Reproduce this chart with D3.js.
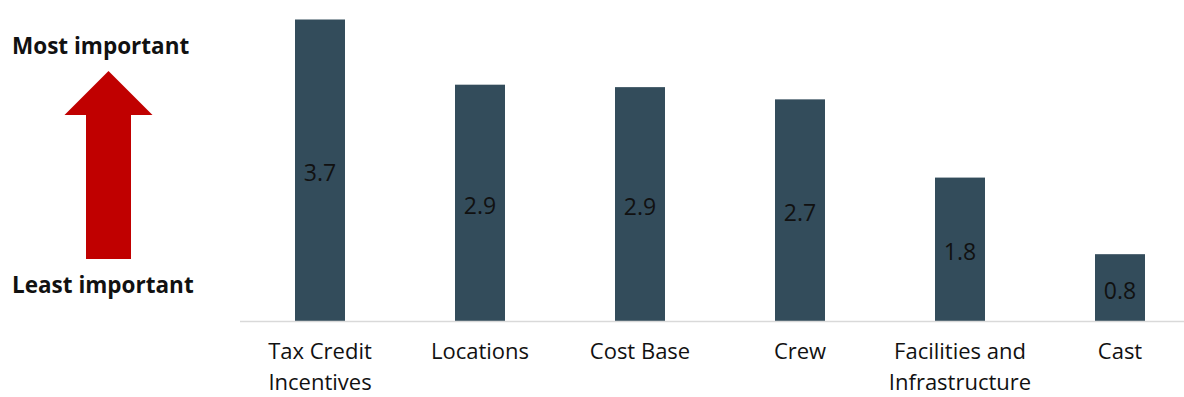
<!DOCTYPE html>
<html>
<head>
<meta charset="utf-8">
<script src="https://cdn.jsdelivr.net/npm/d3@7"></script>
<style>
  body { margin: 0; background: #fff; }
  svg { display: block; font-family: "Open Sans", sans-serif; }
</style>
</head>
<body>
<script>
// chart data
var categories = [["Tax Credit", "Incentives"], ["Locations"], ["Cost Base"], ["Crew"],
                  ["Facilities and", "Infrastructure"], ["Cast"]];
var scores = [3.7, 2.9, 2.87, 2.72, 1.76, 0.82];
var topLabel = "Most important",
    bottomLabel = "Least important";

var width = 1184,
    height = 397;

var svg = d3.select("body").append("svg")
    .attr("width", width)
    .attr("height", height);

var baseY = 321;

var x = d3.scaleBand()
    .domain(d3.range(categories.length))
    .range([240, 1200])
    .paddingInner(0.6875)
    .paddingOuter(0.34375);

var y = d3.scaleLinear()
    .domain([0, 3.7])
    .range([baseY, 19.5]);

// bars
svg.selectAll(".bar")
    .data(scores)
    .enter().append("rect")
    .attr("class", "bar")
    .attr("x", function(d, i) { return x(i); })
    .attr("y", function(d) { return y(d); })
    .attr("width", x.bandwidth())
    .attr("height", function(d) { return baseY - y(d); })
    .attr("fill", "#334c5b");

// value labels in the middle of each bar
svg.selectAll(".val")
    .data(scores)
    .enter().append("text")
    .attr("class", "val")
    .attr("x", function(d, i) { return x(i) + x.bandwidth() / 2; })
    .attr("y", function(d) { return (y(d) + baseY) / 2 + 11; })
    .attr("text-anchor", "middle")
    .attr("font-size", 23)
    .attr("fill", "#111")
    .text(function(d) { return d3.format(".1f")(d); });

// baseline
svg.append("line")
    .attr("x1", 240).attr("x2", width)
    .attr("y1", baseY + 0.5).attr("y2", baseY + 0.5)
    .attr("stroke", "#d9d9d9")
    .attr("stroke-width", 1.5);

// category labels
var cat = svg.selectAll(".cat")
    .data(categories)
    .enter().append("text")
    .attr("class", "cat")
    .attr("text-anchor", "middle")
    .attr("font-size", 22)
    .attr("fill", "#111")
    .attr("transform", function(d, i) { return "translate(" + (x(i) + x.bandwidth() / 2) + ",359)"; });

cat.selectAll("tspan")
    .data(function(d) { return d; })
    .enter().append("tspan")
    .attr("x", 0)
    .attr("dy", function(d, j) { return j ? 30.5 : 0; })
    .text(function(d) { return d; });

// importance arrow on the left
svg.append("path")
    .attr("d", "M108.5,71 L152.5,115 L131,115 L131,259 L86,259 L86,115 L64.5,115 Z")
    .attr("fill", "#c00000");

svg.append("text")
    .attr("x", 12).attr("y", 54)
    .attr("font-size", 22.5)
    .attr("font-weight", "bold")
    .attr("fill", "#111")
    .text(topLabel);

svg.append("text")
    .attr("x", 12).attr("y", 293)
    .attr("font-size", 22.5)
    .attr("font-weight", "bold")
    .attr("fill", "#111")
    .text(bottomLabel);
</script>
</body>
</html>
